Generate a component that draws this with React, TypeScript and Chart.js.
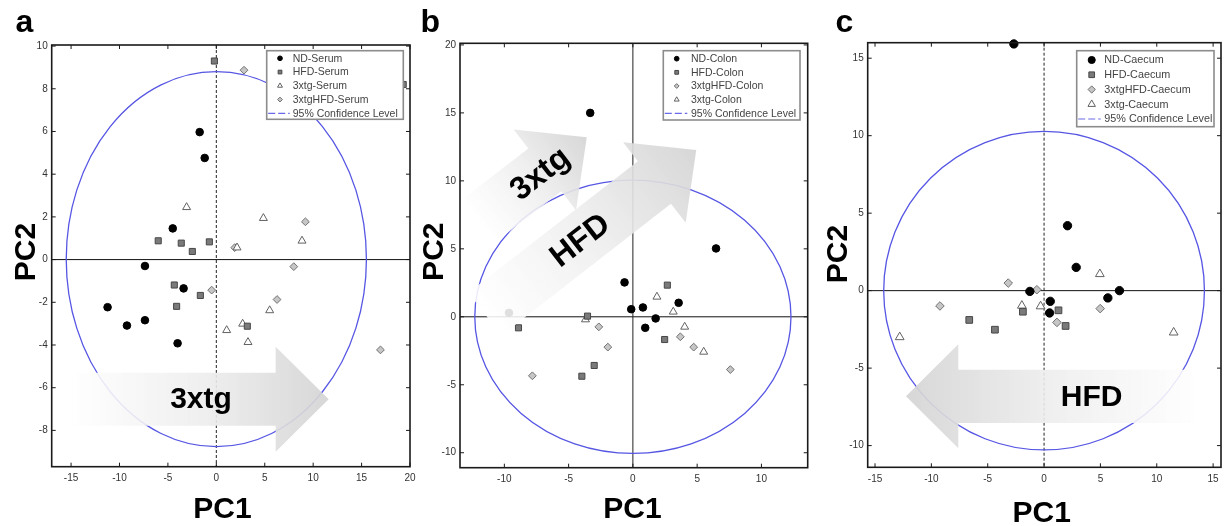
import React, { useEffect, useRef } from "react";
import { Chart, registerables } from "chart.js";
import { drawPoint } from "chart.js/helpers";

Chart.register(...registerables);

type Pt = [number, number];

// ---------- Panel a : Serum ----------
const SERUM_ND: Pt[] = [[-1.72, 5.97], [-1.2, 4.76], [-4.5, 1.46], [-7.37, -0.3], [-3.38, -1.35], [-11.23, -2.23], [-9.23, -3.09], [-7.37, -2.84], [-4.0, -3.92]];
const SERUM_HFD: Pt[] = [[-0.2, 9.3], [-6.0, 0.88], [-3.62, 0.77], [-2.48, 0.38], [-0.72, 0.83], [-4.34, -1.19], [-4.1, -2.19], [-1.65, -1.68], [3.2, -3.12], [19.3, 8.2]];
const SERUM_3XTG: Pt[] = [[-3.07, 2.45], [4.86, 1.94], [8.85, 0.88], [2.14, 0.56], [5.51, -2.38], [2.72, -3.01], [1.07, -3.31], [3.27, -3.87]];
const SERUM_3XTGHFD: Pt[] = [[2.86, 8.87], [9.2, 1.77], [1.9, 0.56], [8.0, -0.33], [-0.48, -1.43], [6.27, -1.87], [16.95, -4.23]];

// ---------- Panel b : Colon ----------
const COLON_ND: Pt[] = [[-3.32, 15.0], [6.47, 5.03], [-0.65, 2.53], [-0.13, 0.56], [0.78, 0.69], [3.56, 1.03], [1.77, -0.12], [0.96, -0.81], [-9.64, 0.29]];
const COLON_HFD: Pt[] = [[-3.53, 0.05], [-8.9, -0.81], [2.68, 2.33], [2.47, -1.67], [-3.01, -3.58], [-3.97, -4.37]];
const COLON_3XTGHFD: Pt[] = [[-2.65, -0.74], [-1.95, -2.23], [-7.82, -4.34], [3.69, -1.47], [4.73, -2.23], [7.58, -3.88]];
const COLON_3XTG: Pt[] = [[-3.69, -0.2], [1.87, 1.47], [3.14, 0.37], [4.03, -0.74], [5.51, -2.58]];

// ---------- Panel c : Caecum ----------
const CAECUM_ND: Pt[] = [[-2.68, 15.92], [2.08, 4.19], [2.85, 1.5], [6.69, 0.0], [5.66, -0.47], [-1.26, -0.05], [0.55, -0.69], [0.49, -1.44]];
const CAECUM_HFD: Pt[] = [[-6.64, -1.89], [-4.36, -2.52], [-1.88, -1.36], [1.28, -1.27], [1.91, -2.28]];
const CAECUM_3XTGHFD: Pt[] = [[-9.24, -0.99], [-3.18, 0.49], [-0.64, 0.06], [1.14, -2.05], [4.98, -1.16]];
const CAECUM_3XTG: Pt[] = [[-12.81, -3.0], [-1.97, -0.97], [-0.31, -1.01], [4.95, 1.07], [11.5, -2.7]];

// ---------- Tick labels ----------
const A_XTICKS = [-15, -10, -5, 0, 5, 10, 15, 20];
const A_YTICKS = [-8, -6, -4, -2, 0, 2, 4, 6, 8, 10];
const B_XTICKS = [-10, -5, 0, 5, 10];
const B_YTICKS = [-10, -5, 0, 5, 10, 15, 20];
const C_XTICKS = [-15, -10, -5, 0, 5, 10, 15];
const C_YTICKS = [-10, -5, 0, 5, 10, 15];

// ---------- 95% confidence ellipses (center x, center y, radius x, radius y) ----------
const A_ELLIPSE = [0, 0.02, 15.5, 8.78];
const B_ELLIPSE = [0, 0, 12.3, 10.05];
const C_ELLIPSE = [0, 0, 14.23, 10.28];

const CONF_LABEL = "95% Confidence Level";

const W = 1232;
const H = 526;
const FONT = "Arial, 'Liberation Sans', Helvetica, sans-serif";

const STYLE: Record<string, { ps: string; bg: string; bd: string; r: number }> = {
  ND: { ps: "circle", bg: "#000000", bd: "#000000", r: 3.8 },
  HFD: { ps: "rect", bg: "#7a7a7a", bd: "#474747", r: 4.3 },
  TG: { ps: "triangle", bg: "#ffffff", bd: "#626262", r: 4.6 },
  TGHFD: { ps: "rectRot", bg: "#c6c6c6", bd: "#727272", r: 3.9 },
};

type Arrow = { text: string; tail: Pt; tip: Pt; shaft: number; head: number; headLen: number; t: number; font: number };

type PanelCfg = {
  letter: string;
  letterX: number;
  area: { left: number; top: number; right: number; bottom: number };
  xr: [number, number];
  yr: [number, number];
  xTicks: number[];
  yTicks: number[];
  series: { label: string; data: Pt[]; kind: string }[];
  ellipse: number[];
  vDash: number[];
  mScale: number;
  legend: { gapR: number; gapT: number; w: number; h: number; row0: number; rowH: number; mx: number; tx: number; l0: number; l1: number; mr: number; font: number };
  arrows: Arrow[];
  pc1: [number, number];
  pc2: [number, number];
};

const PANELS: PanelCfg[] = [
  {
    letter: "a",
    letterX: 15.5,
    area: { left: 51.7, top: 45, right: 410, bottom: 466.7 },
    xr: [-17, 20],
    yr: [-9.7, 10.05],
    xTicks: A_XTICKS,
    yTicks: A_YTICKS,
    series: [
      { label: "ND-Serum", data: SERUM_ND, kind: "ND" },
      { label: "HFD-Serum", data: SERUM_HFD, kind: "HFD" },
      { label: "3xtg-Serum", data: SERUM_3XTG, kind: "TG" },
      { label: "3xtgHFD-Serum", data: SERUM_3XTGHFD, kind: "TGHFD" },
    ],
    ellipse: A_ELLIPSE,
    vDash: [3, 2],
    mScale: 1,
    legend: { gapR: 6.7, gapT: 5.7, w: 136.6, h: 68.6, row0: 7.6, rowH: 13.75, mx: 13.3, tx: 26, l0: 1.5, l1: 23, mr: 0.62, font: 10.5 },
    arrows: [{ text: "3xtg", tail: [-15.3, -6.54], tip: [11.6, -6.54], shaft: 26.5, head: 52.5, headLen: 53, t: 0.51, font: 30 }],
    pc1: [222.5, 518],
    pc2: [35, 252],
  },
  {
    letter: "b",
    letterX: 420.5,
    area: { left: 460, top: 43.3, right: 807.7, bottom: 467.7 },
    xr: [-13.45, 13.6],
    yr: [-11.1, 20.12],
    xTicks: B_XTICKS,
    yTicks: B_YTICKS,
    series: [
      { label: "ND-Colon", data: COLON_ND, kind: "ND" },
      { label: "HFD-Colon", data: COLON_HFD, kind: "HFD" },
      { label: "3xtgHFD-Colon", data: COLON_3XTGHFD, kind: "TGHFD" },
      { label: "3xtg-Colon", data: COLON_3XTG, kind: "TG" },
    ],
    ellipse: B_ELLIPSE,
    vDash: [],
    mScale: 1,
    legend: { gapR: 7.7, gapT: 7.4, w: 136.7, h: 69.3, row0: 8, rowH: 13.65, mx: 13.4, tx: 27.7, l0: 1.5, l1: 24, mr: 0.62, font: 10.5 },
    arrows: [
      { text: "3xtg", tail: [-12.06, 7.0], tip: [-3.59, 13.2], shaft: 27, head: 51, headLen: 53, t: 0.57, font: 32 },
      { text: "HFD", tail: [-11.51, 0.2], tip: [4.93, 12.27], shaft: 27, head: 51, headLen: 53, t: 0.45, font: 32 },
    ],
    pc1: [632.5, 518],
    pc2: [443, 251.7],
  },
  {
    letter: "c",
    letterX: 835.5,
    area: { left: 867.7, top: 42.7, right: 1221, bottom: 467.3 },
    xr: [-15.65, 15.7],
    yr: [-11.4, 16.0],
    xTicks: C_XTICKS,
    yTicks: C_YTICKS,
    series: [
      { label: "ND-Caecum", data: CAECUM_ND, kind: "ND" },
      { label: "HFD-Caecum", data: CAECUM_HFD, kind: "HFD" },
      { label: "3xtgHFD-Caecum", data: CAECUM_3XTGHFD, kind: "TGHFD" },
      { label: "3xtg-Caecum", data: CAECUM_3XTG, kind: "TG" },
    ],
    ellipse: C_ELLIPSE,
    vDash: [3, 2],
    mScale: 1.1,
    legend: { gapR: 7, gapT: 8, w: 137.3, h: 76, row0: 9.3, rowH: 14.75, mx: 15, tx: 27.6, l0: 1.5, l1: 24, mr: 0.85, font: 10.8 },
    arrows: [{ text: "HFD", tail: [14.1, -6.82], tip: [-12.25, -6.82], shaft: 26.7, head: 52, headLen: 52.3, t: 0.375, font: 30 }],
    pc1: [1041.7, 521.5],
    pc2: [846.7, 254],
  },
];

const Y_SCALE_W = 40;

function drawArrow(ctx: CanvasRenderingContext2D, chart: any, a: Arrow) {
  const xs = chart.scales.x;
  const ys = chart.scales.y;
  const x0 = xs.getPixelForValue(a.tail[0]);
  const y0 = ys.getPixelForValue(a.tail[1]);
  const x1 = xs.getPixelForValue(a.tip[0]);
  const y1 = ys.getPixelForValue(a.tip[1]);
  const ang = Math.atan2(y1 - y0, x1 - x0);
  const len = Math.hypot(x1 - x0, y1 - y0);
  ctx.save();
  ctx.translate(x0, y0);
  ctx.rotate(ang);
  const g = ctx.createLinearGradient(0, 0, len, 0);
  g.addColorStop(0, "rgba(255,255,255,0.88)");
  g.addColorStop(0.5, "rgba(238,238,238,0.9)");
  g.addColorStop(1, "rgba(212,212,212,0.92)");
  ctx.fillStyle = g;
  const hb = len - a.headLen;
  ctx.beginPath();
  ctx.moveTo(0, -a.shaft);
  ctx.lineTo(hb, -a.shaft);
  ctx.lineTo(hb, -a.head);
  ctx.lineTo(len, 0);
  ctx.lineTo(hb, a.head);
  ctx.lineTo(hb, a.shaft);
  ctx.lineTo(0, a.shaft);
  ctx.closePath();
  ctx.fill();
  ctx.translate(len * a.t, 0);
  if (Math.abs(ang) > Math.PI / 2) ctx.rotate(Math.PI);
  ctx.font = `bold ${a.font}px ${FONT}`;
  ctx.fillStyle = "#000";
  ctx.textAlign = "center";
  ctx.textBaseline = "middle";
  ctx.fillText(a.text, 0, 1);
  ctx.restore();
}

function makePlugin(p: PanelCfg) {
  return {
    id: "pcaDecor" + p.letter,
    beforeDatasetsDraw(chart: any) {
      const ctx: CanvasRenderingContext2D = chart.ctx;
      const ca = chart.chartArea;
      const xs = chart.scales.x;
      const ys = chart.scales.y;
      ctx.save();
      // zero lines
      const zx = xs.getPixelForValue(0);
      const zy = ys.getPixelForValue(0);
      ctx.lineWidth = 1;
      ctx.strokeStyle = "#111";
      ctx.beginPath();
      ctx.moveTo(ca.left, zy);
      ctx.lineTo(ca.right, zy);
      ctx.stroke();
      ctx.setLineDash(p.vDash);
      ctx.strokeStyle = "#222";
      ctx.beginPath();
      ctx.moveTo(zx, ca.top);
      ctx.lineTo(zx, ca.bottom);
      ctx.stroke();
      ctx.setLineDash([]);
      // confidence ellipse
      const [cx, cy, rx, ry] = p.ellipse;
      const px = xs.getPixelForValue(cx);
      const py = ys.getPixelForValue(cy);
      const prx = Math.abs(xs.getPixelForValue(cx + rx) - px);
      const pry = Math.abs(ys.getPixelForValue(cy + ry) - py);
      ctx.strokeStyle = "#5656e4";
      ctx.lineWidth = 1.3;
      ctx.beginPath();
      ctx.ellipse(px, py, prx, pry, 0, 0, Math.PI * 2);
      ctx.stroke();
      ctx.restore();
    },
    afterDatasetsDraw(chart: any) {
      const ctx: CanvasRenderingContext2D = chart.ctx;
      const ca = chart.chartArea;
      const xs = chart.scales.x;
      const ys = chart.scales.y;
      ctx.save();
      p.arrows.forEach((a) => drawArrow(ctx, chart, a));
      // frame
      ctx.strokeStyle = "#1a1a1a";
      ctx.lineWidth = 1.6;
      ctx.strokeRect(ca.left, ca.top, ca.right - ca.left, ca.bottom - ca.top);
      // inward ticks on all four sides
      ctx.lineWidth = 1;
      ctx.beginPath();
      p.xTicks.forEach((v) => {
        const x = xs.getPixelForValue(v);
        ctx.moveTo(x, ca.bottom);
        ctx.lineTo(x, ca.bottom - 4);
        ctx.moveTo(x, ca.top);
        ctx.lineTo(x, ca.top + 4);
      });
      p.yTicks.forEach((v) => {
        const y = ys.getPixelForValue(v);
        ctx.moveTo(ca.left, y);
        ctx.lineTo(ca.left + 4, y);
        ctx.moveTo(ca.right, y);
        ctx.lineTo(ca.right - 4, y);
      });
      ctx.stroke();
      // legend
      const L = p.legend;
      const bx = ca.right - L.gapR - L.w;
      const by = ca.top + L.gapT;
      ctx.fillStyle = "#fff";
      ctx.fillRect(bx, by, L.w, L.h);
      ctx.strokeStyle = "#8c8c8c";
      ctx.lineWidth = 1.6;
      ctx.strokeRect(bx, by, L.w, L.h);
      ctx.font = `${L.font}px ${FONT}`;
      ctx.textAlign = "left";
      ctx.textBaseline = "middle";
      p.series.forEach((s, i) => {
        const st = STYLE[s.kind];
        const y = by + L.row0 + i * L.rowH;
        ctx.fillStyle = st.bg;
        ctx.strokeStyle = st.bd;
        ctx.lineWidth = 1;
        drawPoint(ctx, { pointStyle: st.ps as any, radius: st.r * p.mScale * L.mr, rotation: 0, borderWidth: 1 } as any, bx + L.mx, y);
        ctx.fillStyle = "#444";
        ctx.fillText(s.label, bx + L.tx, y + 0.5);
      });
      const y5 = by + L.row0 + p.series.length * L.rowH;
      ctx.strokeStyle = "#6a6ae8";
      ctx.lineWidth = 1.2;
      ctx.setLineDash([7, 3]);
      ctx.beginPath();
      ctx.moveTo(bx + L.l0, y5);
      ctx.lineTo(bx + L.l1, y5);
      ctx.stroke();
      ctx.setLineDash([]);
      ctx.fillStyle = "#444";
      ctx.fillText(CONF_LABEL, bx + L.tx, y5 + 0.5);
      ctx.restore();
    },
    afterDraw(chart: any) {
      const ctx: CanvasRenderingContext2D = chart.ctx;
      ctx.save();
      ctx.fillStyle = "#000";
      // panel letter
      ctx.font = `bold 32px ${FONT}`;
      ctx.textAlign = "left";
      ctx.textBaseline = "alphabetic";
      ctx.fillText(p.letter, p.letterX, 31.7);
      // axis titles
      ctx.font = `bold 30px ${FONT}`;
      ctx.textAlign = "center";
      ctx.fillText("PC1", p.pc1[0], p.pc1[1]);
      ctx.translate(p.pc2[0], p.pc2[1]);
      ctx.rotate(-Math.PI / 2);
      ctx.fillText("PC2", 0, 0);
      ctx.restore();
    },
  };
}

function buildConfig(p: PanelCfg): any {
  const tickFont = { family: FONT, size: 10 };
  const grid = { display: false, drawTicks: false, tickLength: 0 };
  return {
    type: "scatter",
    data: {
      datasets: p.series.map((s) => {
        const st = STYLE[s.kind];
        return {
          label: s.label,
          data: s.data.map(([x, y]) => ({ x, y })),
          pointStyle: st.ps,
          pointRadius: st.r * p.mScale,
          backgroundColor: st.bg,
          borderColor: st.bd,
          borderWidth: 1,
          clip: false,
        };
      }),
    },
    options: {
      animation: false,
      responsive: false,
      maintainAspectRatio: false,
      events: [],
      layout: {
        padding: { left: p.area.left - Y_SCALE_W, top: p.area.top, right: W - p.area.right, bottom: 0 },
      },
      plugins: { legend: { display: false }, tooltip: { enabled: false } },
      scales: {
        x: {
          type: "linear",
          min: p.xr[0],
          max: p.xr[1],
          grid,
          border: { display: false },
          ticks: { font: tickFont, color: "#333", padding: 6, autoSkip: false, maxRotation: 0 },
          afterBuildTicks: (s: any) => {
            s.ticks = p.xTicks.map((v) => ({ value: v }));
          },
          afterFit: (s: any) => {
            s.height = H - p.area.bottom;
            s.paddingLeft = 0;
            s.paddingRight = 0;
          },
        },
        y: {
          type: "linear",
          min: p.yr[0],
          max: p.yr[1],
          grid,
          border: { display: false },
          ticks: { font: tickFont, color: "#333", padding: 4, autoSkip: false },
          afterBuildTicks: (s: any) => {
            s.ticks = p.yTicks.map((v) => ({ value: v }));
          },
          afterFit: (s: any) => {
            s.width = Y_SCALE_W;
            s.paddingTop = 0;
            s.paddingBottom = 0;
          },
        },
      },
    },
    plugins: [makePlugin(p)],
  };
}

function Panel({ p }: { p: PanelCfg }) {
  const ref = useRef<HTMLCanvasElement>(null);
  useEffect(() => {
    if (!ref.current) return;
    const chart = new Chart(ref.current, buildConfig(p));
    return () => chart.destroy();
  }, [p]);
  return (
    <canvas
      ref={ref}
      width={W}
      height={H}
      style={{ position: "absolute", left: 0, top: 0, width: W, height: H }}
    />
  );
}

export default function App() {
  return (
    <div style={{ position: "fixed", left: 0, top: 0, width: W, height: H, background: "#fff", overflow: "hidden" }}>
      {PANELS.map((p) => (
        <Panel key={p.letter} p={p} />
      ))}
    </div>
  );
}
